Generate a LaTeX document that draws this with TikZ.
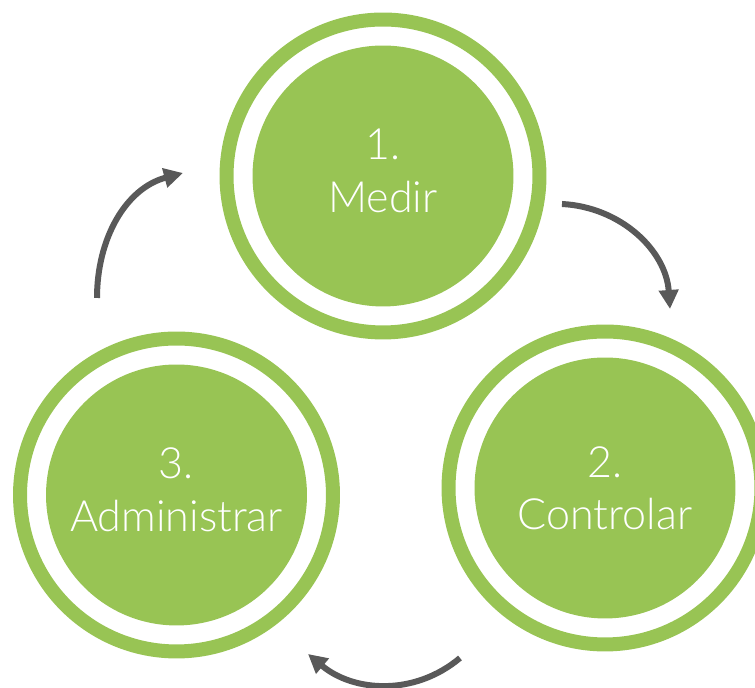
\documentclass[tikz,border=0pt]{standalone}
\usepackage{fontspec}
\IfFontExistsTF{Lato Light}{\setmainfont{Lato Light}}{\setmainfont{TeX Gyre Heros}}
\usepackage{xcolor}
\usepackage{tikz}
\usetikzlibrary{arrows.meta}
\definecolor{mygreen}{RGB}{152,196,84}
\definecolor{mygray}{RGB}{89,89,89}
\tikzset{
  stage/.style={circle, fill=mygreen, text=white, inner sep=0pt,
    minimum size=5.22cm, align=center, text depth=0.22cm,
    font=\fontsize{24.5}{30}\selectfont},
  ring/.style={circle, draw=mygreen, inner sep=0pt,
    minimum size=6.26cm, line width=0.28cm},
  cyclearrow/.style={-{Triangle[length=0.38cm, width=0.38cm]},
    line width=0.12cm, color=mygray}
}

\begin{document}
\begin{tikzpicture}[x=0.02cm, y=0.02cm]
  \useasboundingbox (0,0) rectangle (755,688);
  \clip (0,0) rectangle (755,688);

  % Outer rings
  \node[ring] (medirring) at (383,512) {};
  \node[ring] (controlarring) at (605,200) {};
  \node[ring] (administrarring) at (176.5,193) {};

  % Stages
  \node[stage] (medir) at (383,512) {1.\\Medir};
  \node[stage, text depth=0pt] (controlar) at (605,200) {2.\\Controlar};
  \node[stage] (administrar) at (176.5,193) {3.\\Administrar};

  % Arrow ends
  \coordinate (a1s) at (562,484);
  \coordinate (a1e) at (670,379);
  \coordinate (a2s) at (460,30);
  \coordinate (a2e) at (308,34);
  \coordinate (a3s) at (97,390);
  \coordinate (a3e) at (183,515);

  % Cycle arrows
  \draw[cyclearrow] (a1s) to[out=-3, in=94] (a1e);
  \draw[cyclearrow] (a2s) to[out=220, in=320] (a2e);
  \draw[cyclearrow] (a3s) to[out=90, in=195] (a3e);
\end{tikzpicture}
\end{document}
